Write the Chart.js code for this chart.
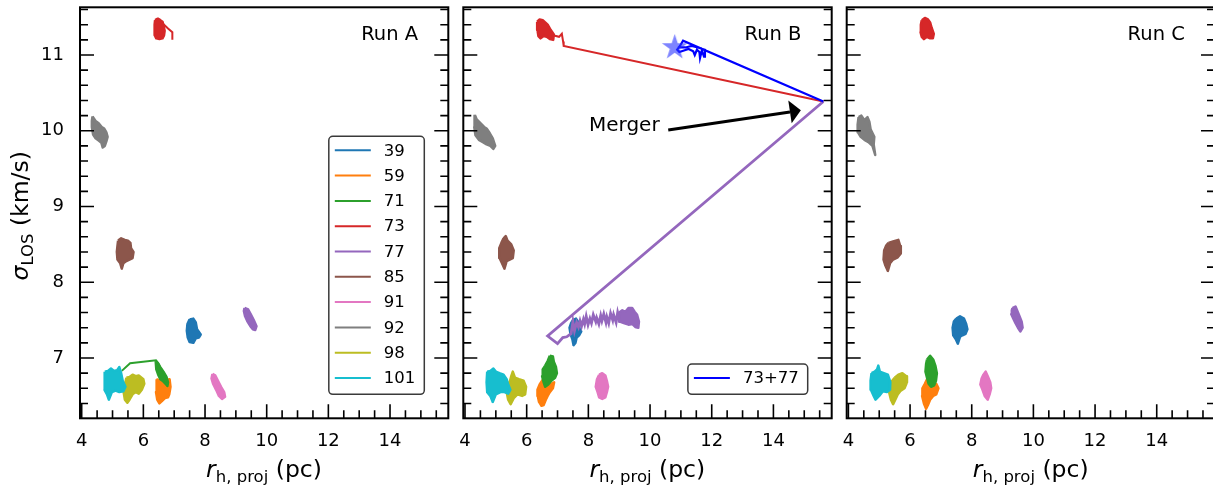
<!DOCTYPE html>
<html>
<head>
<meta charset="utf-8">
<script src="https://cdn.jsdelivr.net/npm/chart.js@4.4.1/dist/chart.umd.min.js"></script>
<style>
  html, body { margin: 0; padding: 0; background: #fff; overflow: hidden; }
  #wrap { position: relative; width: 1213px; height: 487px; overflow: hidden; }
  canvas { position: absolute; left: 0; top: 0; }
</style>
</head>
<body>
<div id="wrap">
  <canvas id="runA" width="1220" height="487"></canvas>
  <canvas id="runB" width="1220" height="487"></canvas>
  <canvas id="runC" width="1220" height="487"></canvas>
</div>
<script>
// cluster ids and colours (legend order)
const clusterIds = ["39", "59", "71", "73", "77", "85", "91", "92", "98", "101"];
const clusterColors = ["#1f77b4", "#ff7f0e", "#2ca02c", "#d62728", "#9467bd",
                       "#8c564b", "#e377c2", "#7f7f7f", "#bcbd22", "#17becf"];
const xTicks = [4, 6, 8, 10, 12, 14];
const yTicks = [7, 8, 9, 10, 11];
const xMin = 3.945, xMax = 15.89, yMin = 6.204, yMax = 11.63;

// ---- Run A : outlines of the (r_h, sigma) clouds
const a39 = [[7.50,7.51],[7.62,7.52],[7.70,7.47],[7.74,7.38],[7.86,7.31],[7.80,7.27],[7.70,7.26],[7.62,7.20],[7.50,7.21],[7.44,7.27],[7.41,7.36],[7.43,7.45]];
const a59 = [[6.42,6.72],[6.55,6.70],[6.65,6.73],[6.75,6.70],[6.85,6.72],[6.88,6.62],[6.84,6.52],[6.80,6.48],[6.70,6.47],[6.60,6.43],[6.52,6.40],[6.45,6.45],[6.41,6.55],[6.44,6.63]];
const a71 = [[6.40,6.96],[6.48,6.93],[6.55,6.88],[6.65,6.82],[6.75,6.75],[6.80,6.68],[6.78,6.63],[6.72,6.66],[6.62,6.70],[6.55,6.72],[6.48,6.78],[6.42,6.85]];
const a73 = [[6.38,11.46],[6.47,11.48],[6.55,11.46],[6.62,11.44],[6.66,11.38],[6.69,11.32],[6.67,11.26],[6.62,11.22],[6.52,11.21],[6.42,11.22],[6.37,11.26],[6.36,11.33],[6.37,11.40]];
const a77 = [[9.28,7.66],[9.40,7.64],[9.48,7.58],[9.58,7.50],[9.67,7.42],[9.63,7.37],[9.55,7.38],[9.47,7.42],[9.38,7.48],[9.30,7.55],[9.26,7.62]];
const a85 = [[5.18,8.55],[5.28,8.58],[5.40,8.56],[5.50,8.55],[5.58,8.52],[5.60,8.45],[5.68,8.40],[5.65,8.32],[5.55,8.30],[5.45,8.28],[5.35,8.25],[5.30,8.18],[5.25,8.25],[5.16,8.30],[5.14,8.40],[5.16,8.48]];
const a91 = [[8.24,6.79],[8.33,6.77],[8.42,6.70],[8.52,6.62],[8.62,6.55],[8.65,6.49],[8.55,6.46],[8.45,6.50],[8.36,6.58],[8.26,6.66],[8.21,6.73]];
const a92 = [[4.35,10.19],[4.45,10.13],[4.55,10.10],[4.65,10.05],[4.73,10.03],[4.80,9.98],[4.84,9.92],[4.80,9.86],[4.75,9.80],[4.68,9.78],[4.64,9.84],[4.55,9.87],[4.45,9.90],[4.37,9.95],[4.33,10.05],[4.33,10.13]];
const a98 = [[5.45,6.74],[5.55,6.75],[5.65,6.78],[5.75,6.76],[5.85,6.77],[6.00,6.72],[6.03,6.66],[5.95,6.58],[5.85,6.53],[5.75,6.55],[5.65,6.52],[5.55,6.45],[5.48,6.41],[5.40,6.45],[5.36,6.55],[5.40,6.65]];
const a101 = [[4.75,6.82],[4.85,6.83],[4.95,6.86],[5.05,6.83],[5.15,6.84],[5.22,6.88],[5.28,6.80],[5.33,6.70],[5.42,6.62],[5.35,6.56],[5.22,6.55],[5.10,6.57],[4.98,6.55],[4.88,6.45],[4.82,6.52],[4.74,6.58],[4.74,6.70]];
const aTrail73 = [[6.62,11.42],[6.80,11.35],[6.94,11.30],[6.94,11.20]];
const aTrail71 = [[5.30,6.83],[5.57,6.93],[6.41,6.97],[6.50,6.92]];

// ---- Run B
const b39 = [[7.50,7.50],[7.60,7.52],[7.68,7.47],[7.72,7.38],[7.77,7.35],[7.70,7.30],[7.62,7.27],[7.58,7.20],[7.52,7.17],[7.48,7.25],[7.42,7.32],[7.39,7.40],[7.44,7.46]];
const b59 = [[6.55,6.72],[6.62,6.66],[6.75,6.65],[6.89,6.68],[6.85,6.60],[6.75,6.55],[6.68,6.50],[6.62,6.45],[6.55,6.38],[6.48,6.37],[6.40,6.42],[6.36,6.50],[6.35,6.58],[6.42,6.65],[6.50,6.70]];
const b71 = [[6.75,7.03],[6.85,7.02],[6.88,6.95],[6.95,6.88],[6.98,6.80],[6.92,6.74],[6.80,6.70],[6.70,6.65],[6.60,6.62],[6.55,6.68],[6.50,6.76],[6.52,6.85],[6.60,6.90],[6.68,6.96]];
const b73 = [[6.34,11.44],[6.42,11.47],[6.52,11.46],[6.60,11.43],[6.68,11.40],[6.78,11.33],[6.88,11.27],[6.86,11.20],[6.75,11.21],[6.65,11.24],[6.55,11.25],[6.45,11.22],[6.38,11.25],[6.35,11.33]];
const b77 = [[9.00,7.60],[9.10,7.63],[9.20,7.61],[9.30,7.66],[9.42,7.66],[9.50,7.61],[9.58,7.57],[9.64,7.48],[9.62,7.40],[9.52,7.41],[9.42,7.45],[9.30,7.44],[9.15,7.46],[9.02,7.48]];
const b85 = [[5.25,8.58],[5.32,8.61],[5.38,8.55],[5.50,8.50],[5.58,8.42],[5.55,8.32],[5.45,8.30],[5.35,8.28],[5.28,8.18],[5.20,8.25],[5.12,8.32],[5.11,8.45],[5.18,8.52]];
const b91 = [[8.35,6.78],[8.45,6.80],[8.55,6.77],[8.60,6.70],[8.64,6.62],[8.60,6.55],[8.55,6.48],[8.45,6.46],[8.35,6.48],[8.30,6.55],[8.24,6.62],[8.28,6.72]];
const b92 = [[4.32,10.21],[4.38,10.15],[4.50,10.10],[4.62,10.05],[4.70,10.03],[4.80,9.97],[4.90,9.90],[4.98,9.80],[4.92,9.76],[4.82,9.80],[4.70,9.82],[4.58,9.85],[4.45,9.88],[4.34,9.94],[4.30,10.05],[4.30,10.15]];
const b98 = [[5.50,6.76],[5.55,6.82],[5.62,6.74],[5.75,6.72],[5.90,6.70],[5.98,6.62],[5.95,6.52],[5.85,6.50],[5.70,6.52],[5.58,6.47],[5.48,6.39],[5.40,6.45],[5.35,6.55],[5.40,6.65],[5.46,6.70]];
const b101 = [[4.72,6.82],[4.82,6.83],[4.92,6.86],[5.00,6.82],[5.12,6.80],[5.25,6.78],[5.35,6.72],[5.40,6.65],[5.47,6.58],[5.40,6.53],[5.28,6.55],[5.15,6.55],[5.00,6.52],[4.90,6.42],[4.82,6.50],[4.72,6.55],[4.70,6.68]];
const bTrail73 = [[6.85,11.26],[7.05,11.24],[7.14,11.28],[7.18,11.18],[7.20,11.12],[15.62,10.386]];
const bTrail77 = [[9.00,7.52],[8.95,7.60],[8.90,7.47],[8.82,7.57],[8.79,7.50],[8.72,7.59],[8.66,7.46],[8.60,7.54],[8.57,7.47],[8.50,7.58],[8.44,7.49],[8.40,7.56],[8.34,7.45],[8.27,7.53],[8.24,7.48],[8.16,7.57],[8.10,7.46],[8.05,7.52],[7.99,7.44],[7.93,7.55],[7.88,7.45],[7.84,7.51],[7.78,7.42],[7.73,7.49],[7.68,7.41],[7.62,7.47],[7.55,7.36],[7.50,7.48],[7.44,7.32],[7.30,7.28],[7.17,7.27],[7.00,7.19],[6.68,7.29],[15.62,10.386]];
const bMerged = [[15.62,10.386],[11.07,11.19],[10.97,11.12],[10.88,11.07],[10.95,11.04],[11.10,11.06],[11.25,11.08],[11.40,11.05],[11.45,11.00],[11.52,11.07],[11.60,11.04],[11.62,10.96],[11.68,11.06],[11.75,10.98],[11.78,11.07],[11.55,11.10],[11.35,11.12],[11.15,11.10],[10.90,11.10]];
const bMergedStar = [[10.80, 11.10]];
const mergerLabel = "Merger";
const mergerTextAt = [8.02, 10.0];
const mergerArrowFrom = [10.59, 10.01];
const mergerArrowTo = [14.89, 10.27];

// ---- Run C
const c39 = [[7.50,7.52],[7.62,7.55],[7.75,7.52],[7.82,7.45],[7.86,7.38],[7.80,7.32],[7.70,7.30],[7.62,7.28],[7.55,7.19],[7.48,7.25],[7.40,7.30],[7.38,7.40],[7.42,7.48]];
const c59 = [[6.55,6.72],[6.65,6.75],[6.75,6.68],[6.85,6.66],[6.92,6.60],[6.85,6.52],[6.75,6.50],[6.65,6.45],[6.58,6.38],[6.52,6.33],[6.45,6.40],[6.39,6.50],[6.40,6.60],[6.48,6.66]];
const c71 = [[6.55,6.98],[6.65,7.03],[6.75,6.98],[6.82,6.90],[6.87,6.80],[6.84,6.70],[6.78,6.64],[6.68,6.62],[6.60,6.66],[6.55,6.74],[6.50,6.82],[6.52,6.92]];
const c73 = [[6.38,11.46],[6.48,11.49],[6.58,11.47],[6.65,11.43],[6.70,11.36],[6.77,11.28],[6.74,11.22],[6.65,11.22],[6.55,11.24],[6.45,11.21],[6.38,11.24],[6.34,11.30],[6.35,11.40]];
const c77 = [[9.32,7.66],[9.42,7.68],[9.48,7.62],[9.55,7.55],[9.62,7.48],[9.65,7.40],[9.58,7.35],[9.50,7.40],[9.42,7.46],[9.35,7.52],[9.28,7.58],[9.30,7.63]];
const c85 = [[5.30,8.52],[5.45,8.54],[5.62,8.56],[5.68,8.48],[5.70,8.38],[5.60,8.33],[5.45,8.30],[5.35,8.25],[5.28,8.15],[5.20,8.22],[5.14,8.30],[5.16,8.42],[5.22,8.48]];
const c91 = [[8.38,6.78],[8.45,6.82],[8.52,6.76],[8.60,6.68],[8.63,6.60],[8.58,6.52],[8.52,6.45],[8.42,6.50],[8.35,6.58],[8.28,6.65],[8.32,6.73]];
const c92 = [[4.33,10.18],[4.42,10.20],[4.52,10.14],[4.62,10.18],[4.68,10.12],[4.72,10.02],[4.84,9.92],[4.82,9.82],[4.87,9.68],[4.78,9.80],[4.65,9.85],[4.52,9.88],[4.40,9.92],[4.31,9.98],[4.30,10.08]];
const c98 = [[5.50,6.74],[5.62,6.78],[5.75,6.80],[5.88,6.76],[5.90,6.68],[5.82,6.60],[5.70,6.57],[5.60,6.52],[5.52,6.45],[5.45,6.39],[5.38,6.45],[5.32,6.55],[5.35,6.65],[5.42,6.70]];
const c101 = [[4.75,6.80],[4.85,6.82],[4.93,6.85],[4.97,6.90],[5.02,6.82],[5.15,6.80],[5.28,6.78],[5.36,6.68],[5.35,6.58],[5.25,6.55],[5.12,6.56],[5.00,6.50],[4.88,6.45],[4.82,6.50],[4.73,6.58],[4.72,6.70]];

const FONT = "'DejaVu Sans', sans-serif";

function toXY(pts) {
  return pts.map((p) => ({ x: p[0], y: p[1] }));
}

// filled cloud: closed outline drawn as a line with fill: 'shape'
function cloud(pts, color) {
  const d = toXY(pts);
  d.push(d[0]);
  return { data: d, borderColor: color, backgroundColor: color, borderWidth: 2.5,
           borderJoinStyle: "round", fill: "shape", pointRadius: 0, tension: 0 };
}

function track(pts, color, width) {
  return { data: toXY(pts), borderColor: color, backgroundColor: color, borderWidth: width,
           fill: false, pointRadius: 0, tension: 0 };
}

function starImage(R, color) {
  const c = document.createElement("canvas");
  const s = Math.ceil(2 * R + 2);
  c.width = s; c.height = s;
  const g = c.getContext("2d");
  g.translate(s / 2, s / 2);
  g.beginPath();
  for (let i = 0; i < 10; i++) {
    const r = i % 2 ? R * 0.382 : R;
    const a = -Math.PI / 2 + i * Math.PI / 5;
    g.lineTo(r * Math.cos(a), r * Math.sin(a));
  }
  g.closePath();
  g.fillStyle = color;
  g.fill();
  return c;
}

// ---- drawing helpers (frame, ticks, titles, legend, arrow)
function drawFrame(chart) {
  const { ctx, chartArea: a, scales: { x, y } } = chart;
  ctx.save();
  ctx.strokeStyle = "#000";
  ctx.lineWidth = 1.6;
  ctx.beginPath();
  for (let k = 8; k <= 31; k++) {
    const v = k / 2;
    const L = xTicks.includes(v) ? 14 : 8;
    const px = x.getPixelForValue(v);
    ctx.moveTo(px, a.bottom);
    ctx.lineTo(px, a.bottom - L);
  }
  for (let k = 32; k <= 58; k++) {
    const v = k / 5;
    const L = yTicks.includes(v) ? 14 : 8;
    const py = y.getPixelForValue(v);
    ctx.moveTo(a.left, py);
    ctx.lineTo(a.left + L, py);
    ctx.moveTo(a.right, py);
    ctx.lineTo(a.right - L, py);
  }
  ctx.stroke();
  ctx.lineWidth = 2;
  ctx.strokeRect(a.left, a.top, a.right - a.left, a.bottom - a.top);
  ctx.restore();
}

function drawParts(ctx, parts, x0, y0) {
  let x = x0;
  parts.forEach((p) => {
    ctx.font = p[1];
    ctx.fillText(p[0], x, y0 + p[2]);
    x += ctx.measureText(p[0]).width;
  });
}

function partsWidth(ctx, parts) {
  let w = 0;
  parts.forEach((p) => { ctx.font = p[1]; w += ctx.measureText(p[0]).width; });
  return w;
}

function drawXTitle(chart) {
  const { ctx, chartArea: a } = chart;
  const parts = [["r", "italic 23.5px " + FONT, 0], ["h, proj", "16.5px " + FONT, 4.5], [" (pc)", "23.5px " + FONT, 0]];
  ctx.save();
  ctx.fillStyle = "#000";
  ctx.textBaseline = "alphabetic";
  ctx.textAlign = "left";
  const w = partsWidth(ctx, parts);
  const cx = Math.min((a.left + a.right) / 2, a.left + 184);
  drawParts(ctx, parts, cx - w / 2, 477);
  ctx.restore();
}

function drawYTitle(chart) {
  const { ctx, chartArea: a } = chart;
  const parts = [["σ", "italic 23.5px " + FONT, 0], ["LOS", "16.5px " + FONT, 5], [" (km/s)", "23.5px " + FONT, 0]];
  ctx.save();
  ctx.fillStyle = "#000";
  ctx.textBaseline = "alphabetic";
  ctx.textAlign = "left";
  ctx.translate(28, (a.top + a.bottom) / 2 + 3);
  ctx.rotate(-Math.PI / 2);
  const w = partsWidth(ctx, parts);
  drawParts(ctx, parts, -w / 2, 0);
  ctx.restore();
}

function drawRunLabel(chart, text) {
  const { ctx, chartArea: a } = chart;
  ctx.save();
  ctx.fillStyle = "#000";
  ctx.font = "19.5px " + FONT;
  ctx.textAlign = "right";
  ctx.textBaseline = "alphabetic";
  ctx.fillText(text, a.left + 0.918 * (a.right - a.left), 40);
  ctx.restore();
}

function drawLegendBox(chart, labels, colors, right) {
  if (!labels) return;
  const { ctx, chartArea: a } = chart;
  ctx.save();
  ctx.font = "16.5px " + FONT;
  let tw = 0;
  labels.forEach((l) => { tw = Math.max(tw, ctx.measureText(l).width); });
  const w = 56 + tw + 8;
  const rowH = 25.3;
  const h = 14 + (labels.length - 1) * rowH + 16.3;
  const bx = a.right - right - w;
  const by = a.bottom - 24 - h;
  ctx.beginPath();
  ctx.roundRect(bx, by, w, h, 4);
  ctx.fillStyle = "rgba(255,255,255,0.9)";
  ctx.fill();
  ctx.strokeStyle = "#3a3a3a";
  ctx.lineWidth = 1.5;
  ctx.stroke();
  ctx.textAlign = "left";
  ctx.textBaseline = "middle";
  labels.forEach((l, i) => {
    const cy = by + 14 + i * rowH;
    ctx.strokeStyle = colors[i];
    ctx.lineWidth = 2;
    ctx.beginPath();
    ctx.moveTo(bx + 6, cy);
    ctx.lineTo(bx + 42, cy);
    ctx.stroke();
    ctx.fillStyle = "#000";
    ctx.fillText(l, bx + 55, cy + 1);
  });
  ctx.restore();
}

function drawMerger(chart) {
  const { ctx, scales: { x, y } } = chart;
  const x0 = x.getPixelForValue(mergerArrowFrom[0]), y0 = y.getPixelForValue(mergerArrowFrom[1]);
  const x1 = x.getPixelForValue(mergerArrowTo[0]), y1 = y.getPixelForValue(mergerArrowTo[1]);
  const len = Math.hypot(x1 - x0, y1 - y0);
  const ux = (x1 - x0) / len, uy = (y1 - y0) / len;
  const hl = 11, hw = 11.5;
  const bxp = x1 - ux * hl, byp = y1 - uy * hl;
  ctx.save();
  ctx.strokeStyle = "#000";
  ctx.fillStyle = "#000";
  ctx.lineWidth = 3;
  ctx.beginPath();
  ctx.moveTo(x0, y0);
  ctx.lineTo(bxp, byp);
  ctx.stroke();
  ctx.beginPath();
  ctx.moveTo(x1, y1);
  ctx.lineTo(bxp - uy * hw, byp + ux * hw);
  ctx.lineTo(bxp + uy * hw, byp - ux * hw);
  ctx.closePath();
  ctx.fill();
  ctx.font = "20px " + FONT;
  ctx.textAlign = "left";
  ctx.textBaseline = "alphabetic";
  ctx.fillText(mergerLabel, x.getPixelForValue(mergerTextAt[0]), y.getPixelForValue(mergerTextAt[1]));
  ctx.restore();
}

const panelPlugin = {
  id: "panel",
  afterDatasetsDraw(chart, args, opts) {
    if (opts.merger) drawMerger(chart);
  },
  afterDraw(chart, args, opts) {
    drawFrame(chart);
    drawRunLabel(chart, opts.runLabel);
    drawLegendBox(chart, opts.legendLabels, opts.legendColors, 24);
    drawXTitle(chart);
    if (opts.yTitle) drawYTitle(chart);
  },
};

// no automatic label overhang padding: chart area is set by layout padding only
function noOverhang(s) {
  s.paddingTop = 0; s.paddingBottom = 0; s.paddingLeft = 0; s.paddingRight = 0;
}

function makePanel(id, clouds, extras, opts) {
  const datasets = [];
  clouds.forEach((pts, i) => {
    datasets.push(cloud(pts, clusterColors[i]));
    (extras[clusterIds[i]] || []).forEach((ds) => datasets.push(ds));
  });
  (extras.top || []).forEach((ds) => datasets.push(ds));
  // later datasets on top, as in the original plot
  datasets.forEach((ds, k) => { ds.order = -k; });

  return new Chart(document.getElementById(id), {
    type: "line",
    data: { datasets: datasets },
    options: {
      responsive: false,
      animation: false,
      devicePixelRatio: 1,
      layout: { padding: { left: opts.padLeft, right: opts.padRight, top: 7.3, bottom: 0 } },
      plugins: {
        legend: { display: false },
        tooltip: { enabled: false },
        panel: opts,
      },
      scales: {
        x: {
          type: "linear", min: xMin, max: xMax,
          grid: { display: false, drawTicks: false },
          border: { display: false },
          ticks: { color: "#000", font: { family: FONT, size: 18 }, padding: 12, maxRotation: 0, autoSkip: false },
          afterBuildTicks: (s) => { s.ticks = xTicks.map((v) => ({ value: v })); },
          afterFit: (s) => { s.height = 487 - 418.3; noOverhang(s); },
        },
        y: {
          type: "linear", min: yMin, max: yMax, display: opts.yTitle,
          grid: { display: false, drawTicks: false },
          border: { display: false },
          ticks: { color: "#000", font: { family: FONT, size: 18 }, padding: 16 },
          afterBuildTicks: (s) => { s.ticks = yTicks.map((v) => ({ value: v })); },
          afterFit: (s) => { s.width = opts.yTitle ? 80 : 0; noOverhang(s); },
        },
      },
    },
    plugins: [panelPlugin],
  });
}

makePanel("runA",
  [a39, a59, a71, a73, a77, a85, a91, a92, a98, a101],
  { "71": [track(aTrail71, clusterColors[2], 2)], "73": [track(aTrail73, clusterColors[3], 2)] },
  { runLabel: "Run A", yTitle: true, padLeft: 0, padRight: 1220 - 448.3,
    legendLabels: clusterIds, legendColors: clusterColors });

makePanel("runB",
  [b39, b59, b71, b73, b77, b85, b91, b92, b98, b101],
  {
    "73": [track(bTrail73, clusterColors[3], 2)],
    "77": [track(bTrail77, clusterColors[4], 2.8)],
    top: [
      track(bMerged, "#0000ff", 2.2),
      // star image is drawn at its own size; small radius keeps layout padding untouched
      { data: toXY(bMergedStar), showLine: false, pointStyle: starImage(13.5, "rgba(40,50,255,0.6)"),
        pointRadius: 1, borderWidth: 0 },
    ],
  },
  { runLabel: "Run B", yTitle: false, merger: true, padLeft: 463.3, padRight: 1220 - 831.7,
    legendLabels: ["73+77"], legendColors: ["#0000ff"] });

makePanel("runC",
  [c39, c59, c71, c73, c77, c85, c91, c92, c98, c101],
  {},
  { runLabel: "Run C", yTitle: false, padLeft: 846.7, padRight: 1220 - 1215 });
</script>
</body>
</html>
